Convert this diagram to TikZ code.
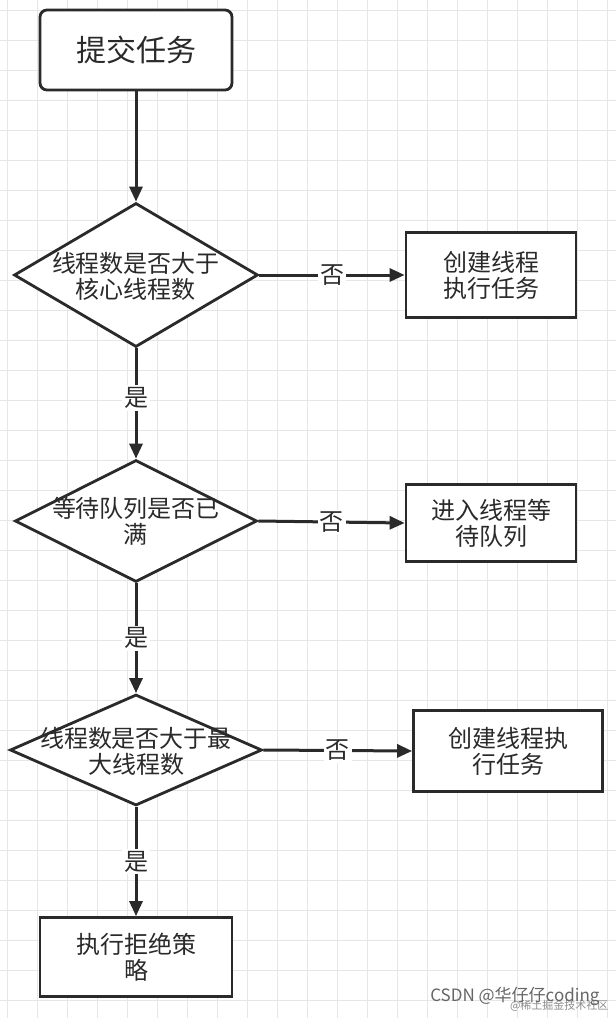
\documentclass[tikz,border=0pt]{standalone}
\usepackage{fontspec}
\setmainfont{Noto Sans CJK SC}
\usetikzlibrary{shapes.geometric,arrows.meta}
\definecolor{ink}{HTML}{2A2A2A}
\definecolor{gridc}{HTML}{E6E6E6}
\begin{document}
\begin{tikzpicture}[x=1pt,y=-1pt,
  every node/.style={text=ink,font=\fontsize{24}{29}\selectfont},
  box/.style={draw=ink,line width=2.8pt,fill=white,align=center,inner sep=0pt},
  dia/.style={diamond,draw=ink,line width=2.8pt,fill=white,align=center,inner sep=0pt},
  arr/.style={draw=ink,line width=3pt,-{Triangle[length=15pt,width=13pt]}},
  lab/.style={fill=white,inner sep=2pt}]
\useasboundingbox (0,0) rectangle (616,1018);
\fill[white] (0,0) rectangle (616,1018);
\foreach \x in {7,37,...,616} \draw[gridc,line width=1pt] (\x,0) -- (\x,1018);
\foreach \y in {10,40,...,1018} \draw[gridc,line width=1pt] (0,\y) -- (616,\y);
\node[box,rounded corners=7pt,minimum width=192pt,minimum height=80pt,font=\fontsize{30}{36}\selectfont] (s) at (136,50) {提交任务};
\node[dia,minimum width=244pt,minimum height=144pt] (d1) at (136,275) {};
\node[align=center] (t1) at (136,276) {线程数是否大于\\[-3pt]核心线程数};
\node[box,minimum width=170pt,minimum height=85pt] (b1) at (491,275) {创建线程\\[-3pt]执行任务};
\node[dia,minimum width=242pt,minimum height=122pt] (d2) at (136,521) {};
\node[align=center] (t2) at (136,521) {等待队列是否已\\[-3pt]满};
\node[box,minimum width=170pt,minimum height=77pt] (b2) at (491,523) {进入线程等\\[-3pt]待队列};
\node[dia,minimum width=252pt,minimum height=111pt] (d3) at (136,750) {};
\node[align=center] (t3) at (136,751) {线程数是否大于最\\[-3pt]大线程数};
\node[box,minimum width=189pt,minimum height=81pt] (b3) at (508,751) {创建线程执\\[-3pt]行任务};
\node[box,minimum width=192pt,minimum height=79pt] (b4) at (136,957) {执行拒绝策\\[-3pt]略};
\draw[arr] (s) -- (d1.north);
\draw[arr] (d1.east) -- node[lab]{否} (b1.west);
\draw[arr] (d1.south) -- node[lab,pos=0.45]{是} (d2.north);
\draw[arr] (d2.east) -- node[lab]{否} (b2.west);
\draw[arr] (d2.south) -- node[lab,pos=0.5]{是} (d3.north);
\draw[arr] (d3.east) -- node[lab]{否} (b3.west);
\draw[arr] (d3.south) -- node[lab,pos=0.5]{是} (b4.north);
\node[text=black!45,font=\fontsize{11}{13}\selectfont,anchor=east] (w2) at (612,1006) {@稀土掘金技术社区};
\node[text=black!60,font=\fontsize{17}{20}\selectfont,anchor=east] (w1) at (603,996) {CSDN @华仔仔coding};
\end{tikzpicture}
\end{document}
